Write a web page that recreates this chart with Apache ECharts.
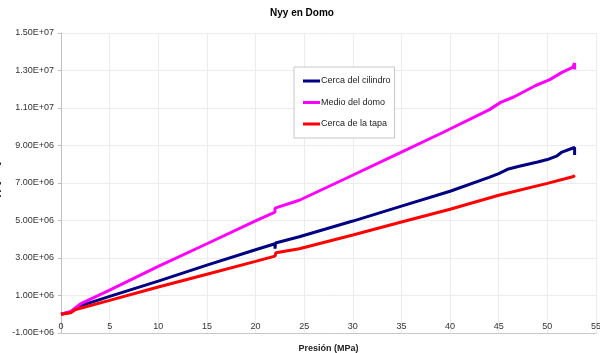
<!DOCTYPE html>
<html>
<head>
<meta charset="utf-8">
<script src="https://cdn.jsdelivr.net/npm/echarts@6/dist/echarts.min.js"></script>
<style>
    html, body { margin: 0; padding: 0; background: #fff; }
    #chart { width: 600px; height: 353px; }
</style>
</head>
<body>
<div id="chart"></div>
<script>
// presión (MPa) y Nyy (N/m)
const seriesNames = ['Cerca del cilindro', 'Medio del domo', 'Cerca de la tapa']
const seriesColors = ['#000080', '#ff00ff', '#ff0000']

const presionCilindro = [0, 1, 1.5, 2, 5, 10, 15, 20, 22, 22, 22.05, 24.5, 30, 35, 40, 44, 45, 46, 47, 48, 49, 50, 51, 51.5, 52.5, 52.8, 52.8]
const nyyCilindro = [0, 0.12e6, 0.3e6, 0.45e6, 0.95e6, 1.77e6, 2.62e6, 3.44e6, 3.76e6, 3.5e6, 3.8e6, 4.13e6, 4.97e6, 5.77e6, 6.56e6, 7.3e6, 7.5e6, 7.75e6, 7.88e6, 8.0e6, 8.12e6, 8.25e6, 8.45e6, 8.65e6, 8.84e6, 8.9e6, 8.5e6]

const presionDomo = [0, 1, 1.5, 2, 5, 10, 15, 20, 22, 22, 24.5, 29.1, 35, 39.2, 44, 45.2, 46.6, 48.8, 50.2, 51.5, 52.6, 52.8, 52.8]
const nyyDomo = [0, 0.15e6, 0.35e6, 0.55e6, 1.29e6, 2.55e6, 3.76e6, 4.98e6, 5.45e6, 5.66e6, 6.08e6, 7.2e6, 8.65e6, 9.68e6, 10.9e6, 11.3e6, 11.6e6, 12.2e6, 12.5e6, 12.9e6, 13.17e6, 13.4e6, 13.05e6]

const presionTapa = [0, 1, 1.5, 2, 5, 10, 15, 20, 22, 22.1, 24.5, 30, 35, 40, 45, 50, 52.7, 52.8]
const nyyTapa = [0, 0.08e6, 0.25e6, 0.32e6, 0.74e6, 1.45e6, 2.13e6, 2.82e6, 3.1e6, 3.28e6, 3.49e6, 4.23e6, 4.92e6, 5.6e6, 6.35e6, 6.98e6, 7.35e6, 7.42e6]

const xTicks = { min: 0, max: 55, interval: 5 }
const yTicks = { min: -1e6, max: 1.5e7, interval: 2e6 }

function pares (xs, ys) {
    return xs.map((x, i) => [x, ys[i]])
}

function formatoE (v) {
    let s = Number(v).toExponential(2).toUpperCase()
    let [mant, exp] = s.split('E')
    let signo = exp[0] === '-' ? '-' : '+'
    let num = exp.replace(/[+-]/, '')
    if (num.length < 2) num = '0' + num
    return mant + 'E' + signo + num
}

const datos = [
    pares(presionCilindro, nyyCilindro),
    pares(presionDomo, nyyDomo),
    pares(presionTapa, nyyTapa)
]

let chart = echarts.init(document.getElementById('chart'))
let option = {
    animation: false,
    textStyle: { fontFamily: 'Liberation Sans, Arial, sans-serif' },
    title: {
        text: 'Nyy en Domo',
        left: 297,
        textAlign: 'center',
        top: 3,
        textStyle: { fontSize: 10, fontWeight: 'bold', color: '#000' }
    },
    legend: {
        orient: 'vertical',
        left: 294,
        top: 67,
        padding: [7, 4, 7, 9],
        icon: 'rect',
        itemWidth: 17,
        itemHeight: 3,
        itemGap: 7.5,
        borderColor: '#c8c8c8',
        borderWidth: 1,
        backgroundColor: '#fff',
        textStyle: { fontSize: 9, color: '#222', lineHeight: 14, padding: [0, 0, 0, -4] },
        data: seriesNames
    },
    grid: { left: 61, right: 4, top: 33, bottom: 20, outerBoundsMode: 'none', containLabel: false },
    xAxis: {
        type: 'value',
        min: xTicks.min,
        max: xTicks.max,
        interval: xTicks.interval,
        name: 'Presión (MPa)',
        nameLocation: 'middle',
        nameGap: 11,
        nameTextStyle: { fontSize: 9, fontWeight: 'bold', color: '#222' },
        // el eje queda abajo como marco; las etiquetas suben hasta el cero
        axisLine: { show: true, onZero: false, lineStyle: { color: '#c8c8c8' } },
        axisTick: { show: false },
        axisLabel: { fontSize: 9, color: '#333', margin: -11 },
        splitLine: { show: true, lineStyle: { color: '#ececec', width: 1 } }
    },
    yAxis: {
        type: 'value',
        min: yTicks.min,
        max: yTicks.max,
        interval: yTicks.interval,
        name: 'Nyy [N/m]',
        nameLocation: 'middle',
        nameGap: 54,
        nameTextStyle: { fontSize: 9, fontWeight: 'bold', color: '#222' },
        axisLine: { show: true, onZero: false, lineStyle: { color: '#c0c0c0' } },
        axisTick: { show: true, length: 3, lineStyle: { color: '#c0c0c0' } },
        axisLabel: { fontSize: 9, color: '#333', margin: 7, formatter: formatoE },
        splitLine: { show: true, lineStyle: { color: '#ececec', width: 1 } }
    },
    series: seriesNames.map((nombre, i) => ({
        name: nombre,
        type: 'line',
        data: datos[i],
        symbol: 'none',
        color: seriesColors[i],
        lineStyle: { width: 3, color: seriesColors[i] }
    }))
}
chart.setOption(option)
</script>
</body>
</html>
